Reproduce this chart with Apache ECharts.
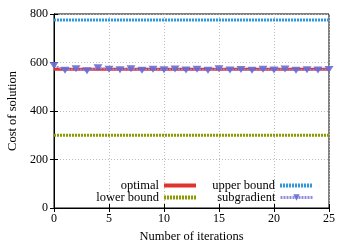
<!DOCTYPE html>
<html>
<head>
<meta charset="utf-8">
<script src="https://cdn.jsdelivr.net/npm/echarts@6/dist/echarts.min.js"></script>
<style>html,body{margin:0;padding:0;background:#fff;}#c{width:349px;height:244px;}</style>
</head>
<body>
<div id="c"></div>
<script>
const iterations = [0,1,2,3,4,5,6,7,8,9,10,11,12,13,14,15,16,17,18,19,20,21,22,23,24,25];
const optimalValue = 572;
const upperBoundValue = 775;
const lowerBoundValue = 300;
const subgradient = [588,568,574,566,578,572,570,574,568,572,570,573,569,572,568,574,569,571,568,572,569,573,568,570,569,571];
const xTicks = {min: 0, max: 25, interval: 5};
const yTicks = {min: 0, max: 800, interval: 200};

const FONT = '"Liberation Serif", "DejaVu Serif", serif';
const FS = 12;
const FSN = 12.5;
const flat = v => iterations.map(x => [x, v]);
const pairs = arr => iterations.map((x, i) => [x, arr[i]]);

const chart = echarts.init(document.getElementById('c'), null, {renderer: 'canvas'});
const legendBase = {
  orient: 'vertical', align: 'right', itemWidth: 32, itemHeight: 8, itemGap: 2,
  padding: 0, textStyle: {fontFamily: FONT, fontSize: FSN, color: '#000'},
  lineStyle: {width: 4},
  selectedMode: false
};
const noMarker = {itemStyle: {opacity: 0}};
chart.setOption({
  animation: false,
  grid: {left: 54, right: 20, top: 14, bottom: 36, show: true, borderColor: '#000', borderWidth: 1,
    containLabel: false, outerBoundsMode: 'none'},
  legend: [
    Object.assign({}, legendBase, noMarker, {data: ['optimal'], right: 151, top: 179}),
    Object.assign({}, legendBase, noMarker, {data: ['lower bound'], right: 151, top: 191}),
    Object.assign({}, legendBase, noMarker, {data: ['upper bound'], right: 35, top: 179}),
    Object.assign({}, legendBase, {data: ['subgradient'], right: 35, top: 191, lineStyle: {width: 3}})
  ],
  xAxis: [{
    type: 'value', min: xTicks.min, max: xTicks.max, interval: xTicks.interval,
    name: 'Number of iterations', nameLocation: 'middle', nameGap: 22,
    nameTextStyle: {fontFamily: FONT, fontSize: FSN, color: '#000'},
    axisLine: {show: true, lineStyle: {color: '#000'}},
    axisTick: {show: true, inside: true, length: 4, lineStyle: {color: '#000'}},
    axisLabel: {fontFamily: FONT, fontSize: FS, color: '#000', margin: 5},
    splitLine: {show: true, lineStyle: {color: '#bbb', type: [1, 2]}}
  }, {
    type: 'value', position: 'top', min: xTicks.min, max: xTicks.max, interval: xTicks.interval,
    axisLine: {show: true, lineStyle: {color: '#000'}},
    axisTick: {show: true, inside: true, length: 4, lineStyle: {color: '#000'}},
    axisLabel: {show: false}, splitLine: {show: false}
  }],
  yAxis: [{
    type: 'value', min: yTicks.min, max: yTicks.max, interval: yTicks.interval,
    name: 'Cost of solution', nameLocation: 'middle', nameGap: 34, nameRotate: 90,
    nameTextStyle: {fontFamily: FONT, fontSize: FSN, color: '#000'},
    axisLine: {show: true, lineStyle: {color: '#000'}},
    axisTick: {show: true, inside: true, length: 4, lineStyle: {color: '#000'}},
    axisLabel: {fontFamily: FONT, fontSize: FS, color: '#000', margin: 6},
    splitLine: {show: true, lineStyle: {color: '#bbb', type: [1, 2]}}
  }, {
    type: 'value', position: 'right', min: yTicks.min, max: yTicks.max, interval: yTicks.interval,
    axisLine: {show: true, lineStyle: {color: '#000'}},
    axisTick: {show: true, inside: true, length: 4, lineStyle: {color: '#000'}},
    axisLabel: {show: false}, splitLine: {show: false}
  }],
  series: [
    {name: 'optimal', type: 'line', data: flat(optimalValue), showSymbol: false, symbol: 'none',
      color: '#e0332e', lineStyle: {width: 3, color: '#e0332e'}, z: 2},
    {name: 'lower bound', type: 'line', data: flat(lowerBoundValue), showSymbol: false, symbol: 'none',
      color: '#8a9a00', lineStyle: {width: 3, color: '#8a9a00', type: [2, 1]}, z: 2},
    {name: 'upper bound', type: 'line', data: flat(upperBoundValue), showSymbol: false, symbol: 'none',
      color: '#3399dd', lineStyle: {width: 3, color: '#3399dd', type: [2, 1]}, z: 2},
    {name: 'subgradient', type: 'line', data: pairs(subgradient), symbol: 'triangle', symbolRotate: 180,
      symbolSize: [9, 7], color: '#6a6ad2',
      itemStyle: {color: '#6a6ad2', opacity: 0.9},
      lineStyle: {width: 2, color: '#8c8ce0', type: [2, 1]}, z: 3}
  ]
});
</script>
</body>
</html>
